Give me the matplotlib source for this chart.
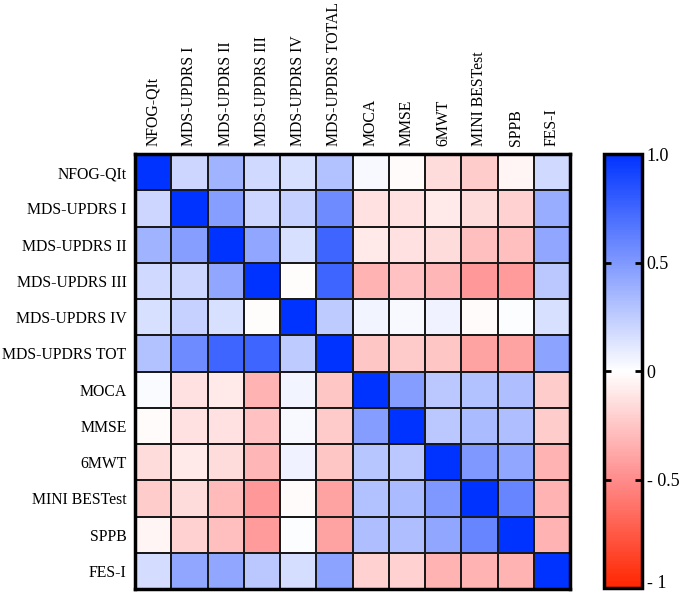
import numpy as np
import matplotlib
matplotlib.use("Agg")
import matplotlib.pyplot as plt
from matplotlib.colors import LinearSegmentedColormap
import matplotlib.transforms as mtransforms

labels_y = ["NFOG-QIt", "MDS-UPDRS I", "MDS-UPDRS II", "MDS-UPDRS III", "MDS-UPDRS IV",
            "MDS-UPDRS TOT", "MOCA", "MMSE", "6MWT", "MINI BESTest", "SPPB", "FES-I"]
labels_x = ["NFOG-QIt", "MDS-UPDRS I", "MDS-UPDRS II", "MDS-UPDRS III", "MDS-UPDRS IV",
            "MDS-UPDRS TOTAL", "MOCA", "MMSE", "6MWT", "MINI BESTest", "SPPB", "FES-I"]

r_nfog  = [1.00, 0.20, 0.37, 0.18, 0.15, 0.30, 0.03, -0.02, -0.15, -0.22, -0.04, 0.18]
r_updi  = [0.20, 1.00, 0.47, 0.20, 0.22, 0.57, -0.13, -0.13, -0.10, -0.15, -0.20, 0.40]
r_updii = [0.37, 0.47, 1.00, 0.43, 0.15, 0.75, -0.10, -0.13, -0.15, -0.28, -0.28, 0.43]
r_upd3  = [0.18, 0.20, 0.43, 1.00, -0.01, 0.75, -0.33, -0.27, -0.32, -0.45, -0.43, 0.27]
r_upd4  = [0.15, 0.22, 0.15, -0.01, 1.00, 0.25, 0.05, 0.03, 0.06, -0.02, 0.01, 0.15]
r_tot   = [0.30, 0.57, 0.75, 0.75, 0.25, 1.00, -0.25, -0.23, -0.25, -0.40, -0.40, 0.45]
r_moca  = [0.02, -0.13, -0.10, -0.33, 0.05, -0.25, 1.00, 0.48, 0.27, 0.30, 0.32, -0.22]
r_mmse  = [-0.02, -0.13, -0.13, -0.27, 0.03, -0.23, 0.48, 1.00, 0.27, 0.33, 0.32, -0.22]
r_6mwt  = [-0.15, -0.10, -0.15, -0.32, 0.06, -0.25, 0.28, 0.27, 1.00, 0.50, 0.43, -0.33]
r_mini  = [-0.22, -0.15, -0.30, -0.45, -0.02, -0.40, 0.30, 0.33, 0.50, 1.00, 0.60, -0.33]
r_sppb  = [-0.04, -0.20, -0.28, -0.43, 0.01, -0.40, 0.32, 0.32, 0.43, 0.60, 1.00, -0.33]
r_fes   = [0.17, 0.43, 0.43, 0.27, 0.16, 0.45, -0.20, -0.20, -0.33, -0.33, -0.33, 1.00]

data = np.array([r_nfog, r_updi, r_updii, r_upd3, r_upd4, r_tot,
                 r_moca, r_mmse, r_6mwt, r_mini, r_sppb, r_fes])

cmap = LinearSegmentedColormap.from_list(
    "rwb", [(0.0, (1.0, 0.15, 0.0)), (0.25, (1.0, 0.55, 0.55)),
            (0.5, (1, 1, 1)), (1.0, (0.0, 0.2, 1.0))])

plt.rcParams['font.family'] = ['Liberation Serif', 'DejaVu Serif']

fig = plt.figure(figsize=(6.85, 5.95), dpi=100)
W, H = 685, 595
ax = fig.add_axes([135 / W, 1 - 589 / H, 435 / W, 435 / H])
n = data.shape[0]
mesh = ax.pcolormesh(np.arange(n + 1), np.arange(n + 1), data, cmap=cmap,
                     vmin=-1, vmax=1, edgecolors='#1a1a1a', linewidth=1.3)
ax.set_xlim(0, n)
ax.set_ylim(n, 0)
ax.set_xticks(np.arange(n) + 0.5)
ax.set_yticks(np.arange(n) + 0.5)
ax.set_xticklabels(labels_x, rotation=90, fontsize=11.3)
ax.set_yticklabels(labels_y, fontsize=11.3)
ax.xaxis.tick_top()
ax.tick_params(length=0, pad=6)
for s in ax.spines.values():
    s.set_linewidth(2.5)
    s.set_color('black')

cax = fig.add_axes([604 / W, 1 - 588 / H, 38 / W, 434 / H])
cb = fig.colorbar(mesh, cax=cax)
cb.set_ticks([-1, -0.5, 0, 0.5, 1])
cb.set_ticklabels(["- 1", "- 0.5", "0", "0.5", "1.0"])
cb.ax.tick_params(labelsize=13, length=5, width=2, direction='in', left=True, right=True)
cb.outline.set_linewidth(2.5)
lbls = cb.ax.get_yticklabels()
lbls[0].set_transform(lbls[0].get_transform() +
                      mtransforms.ScaledTranslation(0, 5 / 72, fig.dpi_scale_trans))

fig.savefig("out.png", dpi=100)
